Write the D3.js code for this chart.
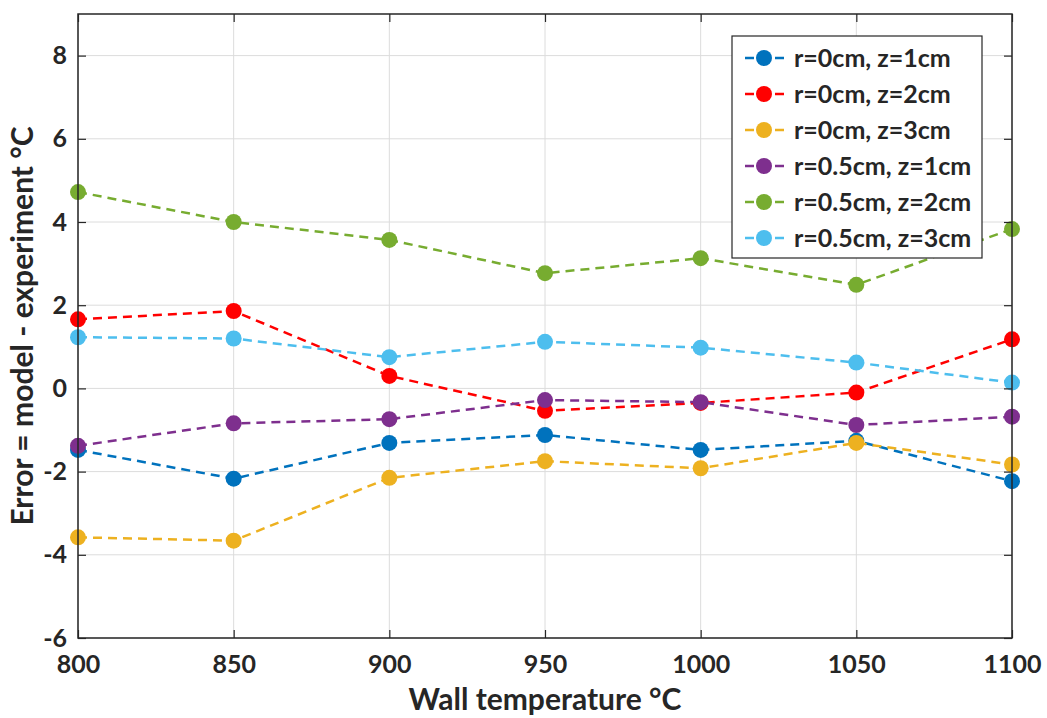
<!DOCTYPE html>
<html>
<head>
<meta charset="utf-8">
<script src="https://cdn.jsdelivr.net/npm/d3@7"></script>
<style>
  body { margin: 0; background: #fff; }
  text { font-family: Lato, "Open Sans", sans-serif; font-weight: bold; fill: #262626; }
</style>
</head>
<body>
<div id="chart"></div>
<script>
var temps = [800, 850, 900, 950, 1000, 1050, 1100];
var seriesNames = ["r=0cm, z=1cm", "r=0cm, z=2cm", "r=0cm, z=3cm",
                   "r=0.5cm, z=1cm", "r=0.5cm, z=2cm", "r=0.5cm, z=3cm"];
var seriesColors = ["#0072BD", "#FF0000", "#EDB120", "#7E2F8E", "#77AC30", "#4DBEEE"];
var r0z1 = [-1.48, -2.17, -1.31, -1.12, -1.48, -1.26, -2.23];
var r0z2 = [1.66, 1.86, 0.30, -0.54, -0.35, -0.10, 1.18];
var r0z3 = [-3.58, -3.66, -2.15, -1.75, -1.92, -1.31, -1.83];
var r05z1 = [-1.38, -0.84, -0.74, -0.28, -0.33, -0.88, -0.68];
var r05z2 = [4.72, 4.00, 3.57, 2.77, 3.13, 2.49, 3.83];
var r05z3 = [1.23, 1.20, 0.75, 1.12, 0.98, 0.62, 0.14];
var yTicks = [-6, -4, -2, 0, 2, 4, 6, 8];
var xTicks = [800, 850, 900, 950, 1000, 1050, 1100];

var allSeries = [r0z1, r0z2, r0z3, r05z1, r05z2, r05z3];

var width = 1047, height = 718;
var margin = {left: 78, right: 35, top: 14, bottom: 80};

var svg = d3.select("#chart").append("svg")
  .attr("width", width)
  .attr("height", height);

var x = d3.scaleLinear().domain([800, 1100]).range([margin.left, width - margin.right]);
var y = d3.scaleLinear().domain([-6, 9]).range([height - margin.bottom, margin.top]);

var axisColor = "#262626";

// grid
var grid = svg.append("g");
xTicks.forEach(function(t) {
  grid.append("line")
    .attr("x1", x(t)).attr("x2", x(t))
    .attr("y1", y(-6)).attr("y2", y(9))
    .attr("stroke", "#dcdcdc").attr("stroke-width", 1);
});
yTicks.forEach(function(t) {
  grid.append("line")
    .attr("x1", x(800)).attr("x2", x(1100))
    .attr("y1", y(t)).attr("y2", y(t))
    .attr("stroke", "#dcdcdc").attr("stroke-width", 1);
});

// data lines
var line = d3.line()
  .x(function(d, i) { return x(temps[i]); })
  .y(function(d) { return y(d); });

var plot = svg.append("g");
allSeries.forEach(function(s, k) {
  plot.append("path")
    .datum(s)
    .attr("d", line)
    .attr("fill", "none")
    .attr("stroke", seriesColors[k])
    .attr("stroke-width", 2.5)
    .attr("stroke-dasharray", "9,6");
  plot.selectAll(".pt" + k)
    .data(s)
    .enter().append("circle")
    .attr("cx", function(d, i) { return x(temps[i]); })
    .attr("cy", function(d) { return y(d); })
    .attr("r", 8)
    .attr("fill", seriesColors[k]);
});

// axes (ticks inside, box)
var tickLen = 8;
var plain = function(d) { return String(d); };  // keep hyphen minus like the original
var xAxisB = d3.axisBottom(x).tickValues(xTicks).tickSize(-tickLen).tickPadding(17).tickFormat(plain);
var xAxisT = d3.axisTop(x).tickValues(xTicks).tickSize(-tickLen).tickFormat("");
var yAxisL = d3.axisLeft(y).tickValues(yTicks).tickSize(-tickLen).tickPadding(11).tickFormat(plain);
var yAxisR = d3.axisRight(y).tickValues(yTicks).tickSize(-tickLen).tickFormat("");

function styleAxis(g) {
  g.select(".domain").remove();
  g.selectAll("line").attr("stroke", axisColor).attr("stroke-width", 1.2);
  g.selectAll("text").style("font-size", "25px").attr("fill", axisColor);
}

svg.append("g").attr("transform", "translate(0," + y(-6) + ")").call(xAxisB).call(styleAxis);
svg.append("g").attr("transform", "translate(0," + y(9) + ")").call(xAxisT).call(styleAxis);
svg.append("g").attr("transform", "translate(" + x(800) + ",0)").call(yAxisL).call(styleAxis);
svg.append("g").attr("transform", "translate(" + x(1100) + ",0)").call(yAxisR).call(styleAxis);

svg.append("rect")
  .attr("x", x(800)).attr("y", y(9))
  .attr("width", x(1100) - x(800)).attr("height", y(-6) - y(9))
  .attr("fill", "none").attr("stroke", axisColor).attr("stroke-width", 1.5);

// axis titles
svg.append("text")
  .attr("x", (x(800) + x(1100)) / 2)
  .attr("y", 710)
  .attr("text-anchor", "middle")
  .style("font-size", "30px")
  .text("Wall temperature °C");

svg.append("text")
  .attr("transform", "translate(33," + ((y(-6) + y(9)) / 2) + ") rotate(-90)")
  .attr("text-anchor", "middle")
  .style("font-size", "30px")
  .text("Error = model - experiment °C");

// legend
var legend = svg.append("g").attr("transform", "translate(732,36)");
legend.append("rect")
  .attr("width", 250).attr("height", 222)
  .attr("fill", "#fff").attr("stroke", axisColor).attr("stroke-width", 1.2);

seriesNames.forEach(function(name, i) {
  var row = legend.append("g").attr("transform", "translate(0," + (22 + i * 36) + ")");
  row.append("line")
    .attr("x1", 8).attr("x2", 58)
    .attr("stroke", seriesColors[i]).attr("stroke-width", 2.5)
    .attr("stroke-dasharray", "9,6")
    .attr("stroke-dashoffset", -5);
  row.append("circle").attr("cx", 32).attr("r", 8).attr("fill", seriesColors[i]);
  row.append("text")
    .attr("x", 62).attr("y", 9)
    .style("font-size", "25px")
    .attr("fill", "#000")
    .text(name);
});
</script>
</body>
</html>
